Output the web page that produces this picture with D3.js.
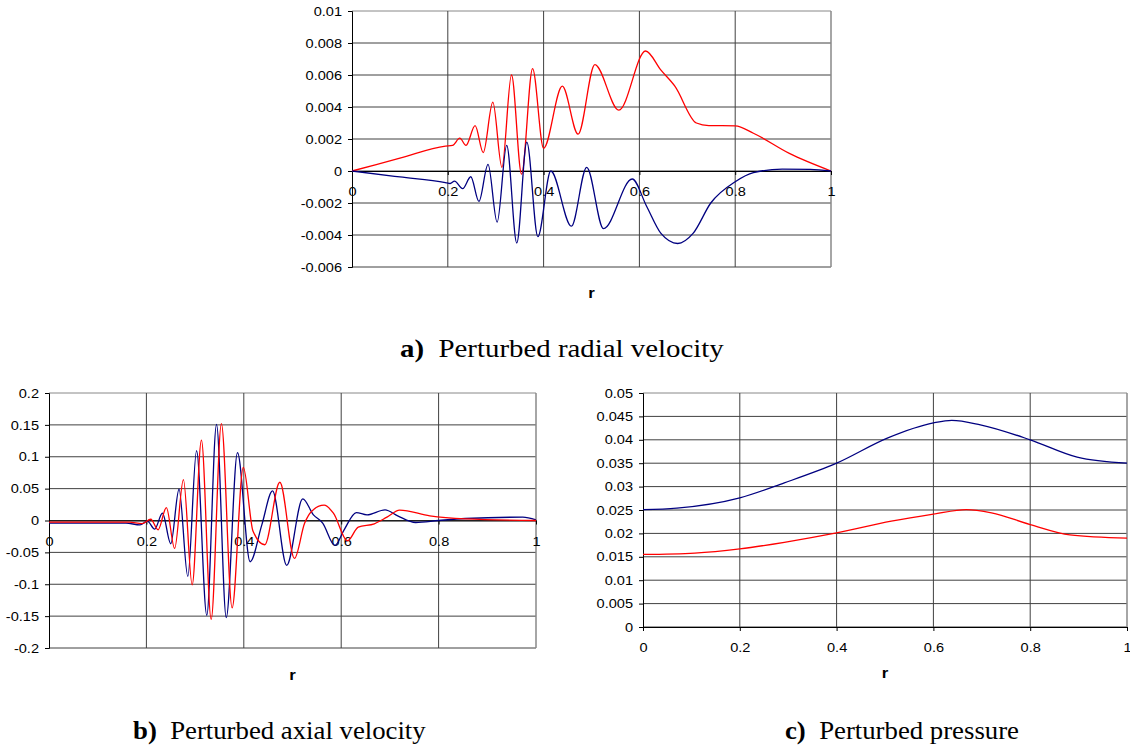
<!DOCTYPE html>
<html>
<head>
<meta charset="utf-8">
<script src="https://cdn.jsdelivr.net/npm/d3@7"></script>
<style>
  body { margin: 0; background: #fff; }
  .sans { font-family: "Liberation Sans", Arial, sans-serif; }
  .serif { font-family: "Liberation Serif", "Times New Roman", serif; }
</style>
</head>
<body>
<svg id="fig" width="1130" height="747"></svg>
<script>
// ---- data ----
const rTicks = [0, 0.2, 0.4, 0.6, 0.8, 1];

const radialTicks = [-0.006, -0.004, -0.002, 0, 0.002, 0.004, 0.006, 0.008, 0.01];
const axialTicks = [-0.2, -0.15, -0.1, -0.05, 0, 0.05, 0.1, 0.15, 0.2];
const pressureTicks = [0, 0.005, 0.01, 0.015, 0.02, 0.025, 0.03, 0.035, 0.04, 0.045, 0.05];

// radial velocity [r, value]
const radialRed = [
  [0, 0], [0.1, 0.0008], [0.195, 0.00156], [0.21, 0.0016], [0.225, 0.00205], [0.238, 0.0016],
  [0.257, 0.00284], [0.274, 0.00115], [0.294, 0.0043], [0.313, 0.00023],
  [0.333, 0.006], [0.354, -0.0002], [0.377, 0.0064], [0.4, 0.00142],
  [0.439, 0.0053], [0.472, 0.0023], [0.507, 0.00665], [0.557, 0.0038],
  [0.613, 0.0075], [0.645, 0.0063], [0.674, 0.0053], [0.719, 0.003],
  [0.745, 0.00284], [0.8, 0.00282], [0.838, 0.00236], [0.913, 0.0011], [1, 0]
];
const radialBlue = [
  [0, 0], [0.1, -0.00037], [0.195, -0.00072], [0.205, -0.00078], [0.214, -0.00063], [0.231, -0.0011], [0.248, -0.00036],
  [0.265, -0.0019], [0.284, 0.00042], [0.303, -0.0032], [0.323, 0.0016],
  [0.344, -0.0045], [0.365, 0.0018], [0.388, -0.0041], [0.415, 0.0],
  [0.458, -0.00345], [0.49, 0.00023], [0.525, -0.0036], [0.585, -0.0005],
  [0.615, -0.0022], [0.645, -0.0039], [0.68, -0.00453], [0.712, -0.0039],
  [0.749, -0.002], [0.8, -0.00067], [0.838, -0.0001], [0.898, 0.00012],
  [0.957, 0.0001], [1, 0]
];

// axial velocity [r, value]
const axialBlue = [
  [0, -0.0042], [0.158, -0.004], [0.187, -0.007], [0.202, -0.001], [0.217, -0.0135],
  [0.233, 0.0115], [0.25, -0.0365], [0.267, 0.049], [0.285, -0.0876],
  [0.303, 0.1095], [0.324, -0.1486], [0.344, 0.1507], [0.364, -0.1522],
  [0.387, 0.1064], [0.413, -0.0647], [0.437, -0.0068], [0.459, 0.0464],
  [0.488, -0.0704], [0.521, 0.0339], [0.543, 0.0089], [0.562, -0.004],
  [0.587, -0.039], [0.606, -0.0146], [0.631, 0.0125], [0.653, 0.0089],
  [0.69, 0.0167], [0.716, 0.0073], [0.753, -0.0031], [0.8, 0], [0.855, 0.0031],
  [0.973, 0.0052], [1, 0.001]
];
const axialRed = [
  [0, -0.0026], [0.165, -0.0026], [0.191, -0.005], [0.209, 0.002], [0.224, -0.0146],
  [0.241, 0.0203], [0.258, -0.0438], [0.276, 0.0641], [0.294, -0.101],
  [0.313, 0.126], [0.333, -0.155], [0.354, 0.152], [0.376, -0.137],
  [0.399, 0.0834], [0.419, -0.017], [0.443, -0.038], [0.474, 0.06],
  [0.504, -0.0594], [0.525, -0.004], [0.54, 0.015], [0.565, 0.024],
  [0.584, 0.0115], [0.613, -0.0318], [0.635, -0.0104], [0.668, -0.0052],
  [0.694, 0.0052], [0.72, 0.0162], [0.782, 0.0073], [0.855, 0.0026], [1, 0]
];

// pressure [r, value]
const pressureBlue = [
  [0, 0.02507], [0.07, 0.0254], [0.2, 0.0276], [0.292, 0.0308], [0.4, 0.035],
  [0.506, 0.0404], [0.6, 0.0436], [0.638, 0.04416], [0.697, 0.0432],
  [0.8, 0.04], [0.897, 0.0363], [1, 0.035]
];
const pressureRed = [
  [0, 0.0155], [0.107, 0.0158], [0.2, 0.0167], [0.292, 0.0181], [0.4, 0.0201],
  [0.513, 0.0226], [0.6, 0.0241], [0.668, 0.0251], [0.72, 0.0244],
  [0.8, 0.0219], [0.882, 0.0197], [1, 0.019]
];

const svg = d3.select("#fig");

function fmt(d) { return String(+d.toFixed(4)); }

// the source figure is a little wider than tall, so widen the glyphs
function widen(sel, k) {
  sel.each(function() {
    const w = this.getComputedTextLength();
    d3.select(this).attr("textLength", w * k).attr("lengthAdjust", "spacingAndGlyphs");
  });
}

function drawPanel(p) {
  const x = d3.scaleLinear().domain([0, 1]).range([p.left, p.right]);
  const y = d3.scaleLinear().domain(d3.extent(p.yTicks)).range([p.bottom, p.top]);
  const g = svg.append("g");

  // horizontal gridlines
  g.selectAll(".hg").data(p.yTicks).join("line")
    .attr("x1", p.left).attr("x2", p.right)
    .attr("y1", d => y(d)).attr("y2", d => y(d))
    .attr("stroke", d => d === p.yTicks[p.yTicks.length - 1] ? "#888" : "#404040")
    .attr("stroke-width", 1);

  // vertical gridlines
  g.selectAll(".vg").data(rTicks.slice(1)).join("line")
    .attr("x1", d => x(d)).attr("x2", d => x(d))
    .attr("y1", p.top).attr("y2", p.bottom)
    .attr("stroke", d => d === 1 ? "#888" : "#404040")
    .attr("stroke-width", d => d === 1 ? 1.5 : 1);

  // y axis
  const yAxis = d3.axisLeft(y).tickValues(p.yTicks).tickSize(4).tickPadding(6).tickFormat(fmt);
  const ya = g.append("g").attr("transform", `translate(${p.left},0)`).call(yAxis)
    .attr("font-family", null);
  ya.select(".domain").attr("stroke", "#000");
  ya.selectAll("text").attr("class", "sans").attr("font-size", 13).attr("fill", "#000");

  // x axis at value 0
  const xAxis = d3.axisBottom(x).tickValues(rTicks).tickSize(4).tickFormat(fmt).tickSizeOuter(0);
  const xa = g.append("g").attr("transform", `translate(0,${y(0)})`).call(xAxis)
    .attr("font-family", null);
  xa.select(".domain").attr("stroke", "#000");
  xa.selectAll("text").attr("class", "sans").attr("font-size", 13).attr("fill", "#000")
    .attr("y", 0).attr("dy", 0).attr("transform", "translate(0,25)");

  // series
  const line = d3.line().x(d => x(d[0])).y(d => y(d[1])).curve(d3.curveMonotoneX);
  p.series.forEach(s => {
    g.append("path").datum(s.data)
      .attr("d", line).attr("fill", "none")
      .attr("stroke", s.color).attr("stroke-width", 1.3);
  });

  // axis title
  g.append("text").attr("class", "sans")
    .attr("x", (p.left + p.right) / 2).attr("y", p.titleY)
    .attr("text-anchor", "middle").attr("font-weight", "bold").attr("font-size", 15)
    .text("r");

  widen(g.selectAll("text"), 1.12);

  // caption
  const cap = svg.append("text").attr("class", "serif")
    .attr("x", p.capX).attr("y", p.capY).attr("font-size", p.capSize);
  cap.append("tspan").attr("font-weight", "bold").text(p.capLetter);
  cap.append("tspan").text("\u00a0 " + p.caption);
  widen(cap, p.capWiden);
}

drawPanel({
  left: 352, right: 831, top: 11, bottom: 267,
  yTicks: radialTicks,
  series: [{ data: radialRed, color: "#ff0000" }, { data: radialBlue, color: "#000080" }],
  titleY: 298, capX: 400, capY: 357, capSize: 26, capWiden: 1.11,
  capLetter: "a)", caption: "Perturbed radial velocity"
});

drawPanel({
  left: 49, right: 536, top: 393, bottom: 648,
  yTicks: axialTicks,
  series: [{ data: axialBlue, color: "#000080" }, { data: axialRed, color: "#ff0000" }],
  titleY: 680, capX: 133, capY: 739, capSize: 25, capWiden: 1.07,
  capLetter: "b)", caption: "Perturbed axial velocity"
});

drawPanel({
  left: 643, right: 1127, top: 393, bottom: 627,
  yTicks: pressureTicks,
  series: [{ data: pressureBlue, color: "#000080" }, { data: pressureRed, color: "#ff0000" }],
  titleY: 678, capX: 785, capY: 739, capSize: 25, capWiden: 1.07,
  capLetter: "c)", caption: "Perturbed pressure"
});
</script>
</body>
</html>
